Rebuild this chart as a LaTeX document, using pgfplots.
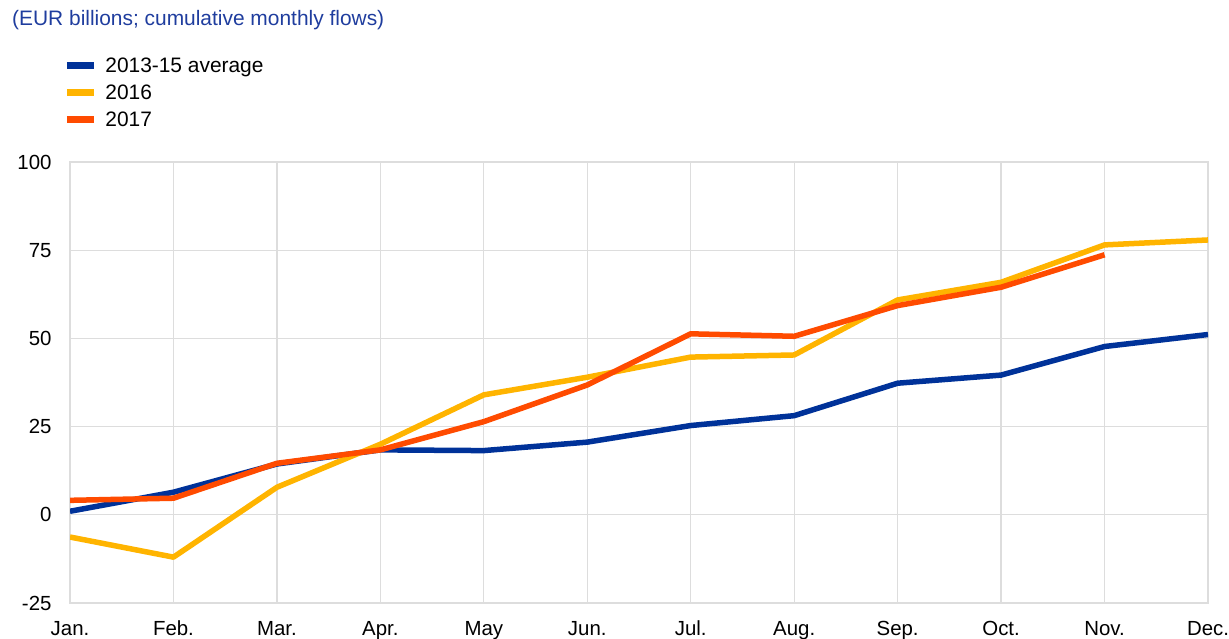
\documentclass[border=0pt]{standalone}
\usepackage{pgfplots}
\pgfplotsset{compat=1.18}
\usepackage{fontspec}
\setmainfont{Liberation Sans}
\definecolor{ecbblue}{HTML}{003299}
\definecolor{ecbyellow}{HTML}{FFB400}
\definecolor{ecbred}{HTML}{FF4B00}
\definecolor{titleblue}{HTML}{1F3D9E}
\definecolor{gridgray}{HTML}{DDDDDD}
\begin{document}
\begin{tikzpicture}
\useasboundingbox (0,0) rectangle (1229bp,639bp);
\node[anchor=west, inner sep=0pt, text=titleblue, font=\fontsize{21}{24}\selectfont] at (12bp,619bp) {(EUR billions; cumulative monthly flows)};
\begin{axis}[
  at={(70bp,36bp)}, anchor=south west,
  scale only axis, width=1138bp, height=441bp,
  xmin=0, xmax=11, ymin=-25, ymax=100,
  xtick={0,...,11},
  xticklabels={Jan.,Feb.,Mar.,Apr.,May,Jun.,Jul.,Aug.,Sep.,Oct.,Nov.,Dec.},
  ytick={-25,0,25,50,75,100},
  grid=major,
  major grid style={gridgray, line width=1.2bp},
  axis line style={gridgray, line width=1.2bp},
  major tick length=0pt,
  tick label style={font=\fontsize{20.5}{24}\selectfont},
  /pgf/number format/assume math mode=true,
  yticklabel style={xshift=-15bp},
  xticklabel style={anchor=base, yshift=-33bp},
  legend style={at={(-0.006,1.242)}, anchor=north west, draw=none, fill=none,
     font=\fontsize{21}{24}\selectfont, row sep=7bp, inner sep=0pt,
     legend cell align=left,
     /tikz/every odd column/.append style={column sep=6bp}},
  legend image code/.code={\draw[#1, line width=7bp, line cap=butt] (0bp,0bp) -- (27bp,0bp);},
  every axis plot/.append style={line width=5.5bp, line join=round},
]
\addplot[ecbblue] coordinates {
(0,1.0) (1,6.4) (2,14.4) (3,18.4) (4,18.2) (5,20.6) (6,25.3) (7,28.1) (8,37.3) (9,39.6) (10,47.7) (11,51.1)};
\addlegendentry{2013-15 average}
\addplot[ecbyellow] coordinates {
(0,-6.3) (1,-12.0) (2,7.8) (3,20.0) (4,34.0) (5,39.0) (6,44.7) (7,45.3) (8,60.9) (9,65.9) (10,76.5) (11,77.9)};
\addlegendentry{2016}
\addplot[ecbred] coordinates {
(0,4.1) (1,4.7) (2,14.6) (3,18.4) (4,26.4) (5,36.8) (6,51.3) (7,50.6) (8,59.3) (9,64.5) (10,73.7)};
\addlegendentry{2017}
\end{axis}
\end{tikzpicture}
\end{document}
